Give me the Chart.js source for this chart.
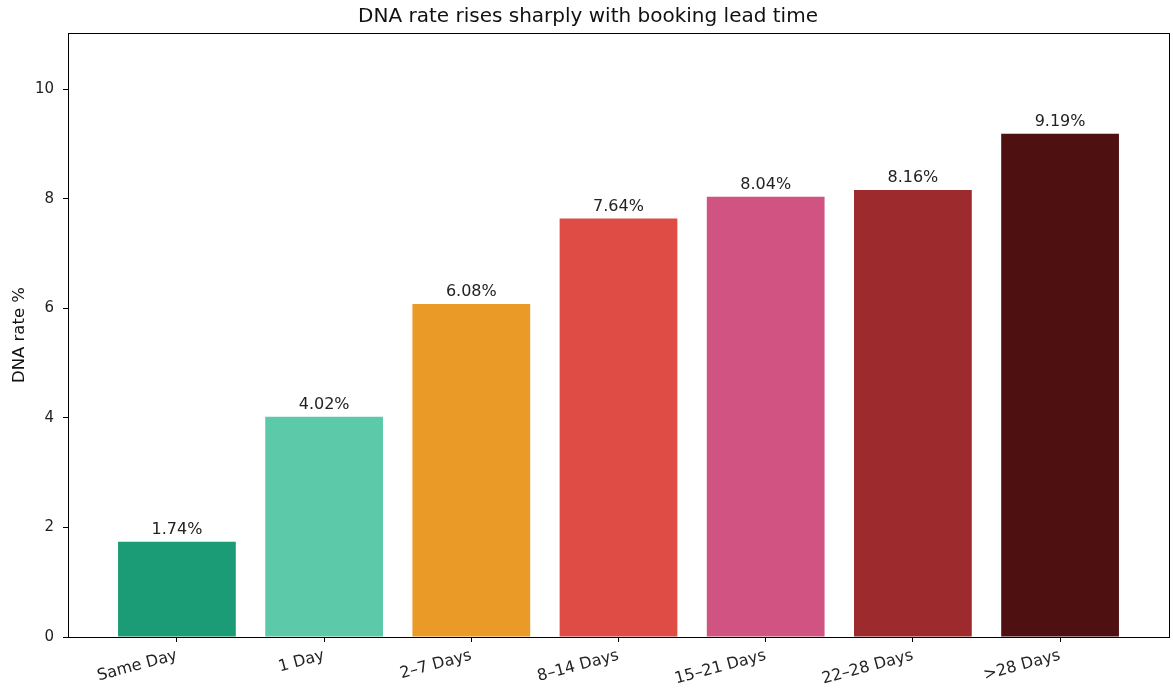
<!DOCTYPE html>
<html>
<head>
<meta charset="utf-8">
<script src="https://cdn.jsdelivr.net/npm/chart.js@4/dist/chart.umd.min.js"></script>
<style>
  html, body { margin: 0; padding: 0; background: #fff; }
  #wrap { width: 1173px; height: 689px; }
</style>
</head>
<body>
<div id="wrap"><canvas id="chart" width="1173" height="689"></canvas></div>
<script>
const categories = ['Same Day', '1 Day', '2\u20137 Days', '8\u201314 Days', '15\u201321 Days', '22\u201328 Days', '>28 Days'];
const dnaRates = [1.74, 4.02, 6.08, 7.64, 8.04, 8.16, 9.19];
const barColors = ['#1b9c76', '#5ccaa9', '#e99a27', '#df4c45', '#d05381', '#9d2a2c', '#4e1010'];
const yTicks = [0, 2, 4, 6, 8, 10];

const font = "'DejaVu Sans', sans-serif";

// frame round the plot area + value labels above the bars
const framePlugin = {
    id: 'frame',
    afterDatasetsDraw(chart) {
        const { ctx, chartArea } = chart;
        ctx.save();
        ctx.strokeStyle = '#000';
        ctx.lineWidth = 1;
        ctx.strokeRect(chartArea.left + 0.5, chartArea.top + 0.5,
            chartArea.right - chartArea.left, chartArea.bottom - chartArea.top);

        const meta = chart.getDatasetMeta(0);
        ctx.fillStyle = '#222';
        ctx.font = '16px ' + font;
        ctx.textAlign = 'center';
        ctx.textBaseline = 'alphabetic';
        meta.data.forEach((bar, i) => {
            ctx.fillText(dnaRates[i].toFixed(2) + '%', bar.x, bar.y - 8);
        });
        ctx.restore();
    }
};

const chart = new Chart(document.getElementById('chart').getContext('2d'), {
    type: 'bar',
    data: {
        datasets: [{
            data: dnaRates.map((v, i) => ({ x: i, y: v })),
            backgroundColor: barColors,
            borderWidth: 0,
            barPercentage: 0.8,
            categoryPercentage: 1.0
        }]
    },
    options: {
        responsive: false,
        animation: false,
        layout: { padding: { left: 7, right: 4, top: 0, bottom: 0 } },
        plugins: {
            legend: { display: false },
            tooltip: { enabled: false },
            title: {
                display: true,
                text: 'DNA rate rises sharply with booking lead time',
                color: '#111',
                font: { family: font, size: 20, weight: 'normal' },
                padding: { top: 5, bottom: 4 }
            }
        },
        scales: {
            x: {
                type: 'linear',
                offset: false,
                min: -0.74,
                max: 6.74,
                afterBuildTicks(scale) {
                    scale.ticks = categories.map((c, i) => ({ value: i }));
                },
                afterFit(scale) { scale.height = 52; },
                grid: { display: true, offset: false, drawOnChartArea: false, drawTicks: true, tickLength: 5, color: '#000' },
                border: { display: true, color: '#000' },
                ticks: {
                    minRotation: 15,
                    maxRotation: 15,
                    autoSkip: false,
                    color: '#222',
                    padding: 4,
                    font: { family: font, size: 16 },
                    callback: (v) => categories[v]
                }
            },
            y: {
                min: 0,
                max: 9.19 * 1.2,
                afterBuildTicks(scale) {
                    scale.ticks = yTicks.map(v => ({ value: v }));
                },
                afterFit(scale) { scale.width = 61; },
                grid: { display: true, drawOnChartArea: false, drawTicks: true, tickLength: 5, color: '#000' },
                border: { display: true, color: '#000' },
                title: {
                    display: true,
                    text: 'DNA rate %',
                    color: '#111',
                    font: { family: font, size: 16.5 },
                    padding: { top: 3, bottom: 4 }
                },
                ticks: {
                    color: '#222',
                    padding: 9,
                    font: { family: font, size: 15 }
                }
            }
        }
    },
    plugins: [framePlugin]
});
</script>
</body>
</html>
